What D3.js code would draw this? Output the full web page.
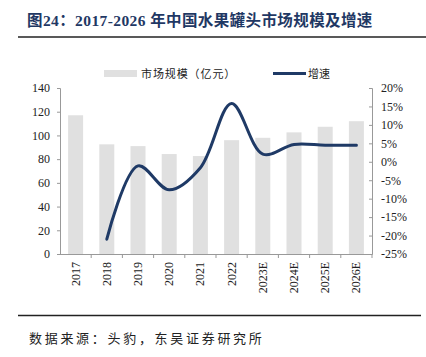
<!DOCTYPE html>
<html><head><meta charset="utf-8">
<script src="https://cdn.jsdelivr.net/npm/d3@7"></script>
<style>body{margin:0;background:#fff}svg{display:block}</style>
</head><body>
<script>
const categories = ["2017","2018","2019","2020","2021","2022","2023E","2024E","2025E","2026E"];
const marketSize = [117, 92.5, 91, 84.3, 82.6, 96, 98, 102.6, 107.3, 112];
const growth = [null, -21, -1.1, -7.6, -1.6, 15.8, 2.1, 4.7, 4.5, 4.5];
const leftTicks = [0,20,40,60,80,100,120,140];
const rightTicks = [20,15,10,5,0,-5,-10,-15,-20,-25];
const titleText = "图24：2017-2026 年中国水果罐头市场规模及增速";
const sourceText = "数据来源：头豹，东吴证券研究所";
const legendBar = "市场规模（亿元）";
const legendLine = "增速";

const W=426,H=357;
const svg=d3.select("body").append("svg").attr("width",W).attr("height",H);
const serif="'Liberation Serif','Times New Roman',serif";
const cjk="'Noto Sans CJK SC',sans-serif";
const navy="#1f3a66";

// title
svg.append("text").attr("x",27).attr("y",26).attr("font-size",15.5).attr("font-weight","bold")
  .attr("letter-spacing",0.4)
  .attr("fill","#1f3864").attr("font-family",serif+","+cjk).text(titleText);
svg.append("line").attr("x1",18).attr("x2",426).attr("y1",37).attr("y2",37).attr("stroke","#222").attr("stroke-width",1.5);
svg.append("line").attr("x1",18).attr("x2",421).attr("y1",315.5).attr("y2",315.5).attr("stroke","#222").attr("stroke-width",1.5);
svg.append("text").attr("x",29).attr("y",343).attr("font-size",13).attr("fill","#222")
  .attr("letter-spacing",2.7).attr("font-family",cjk).text(sourceText);

const x0=60,x1=372,yTop=88,yBot=254;
const xb=d3.scaleBand().domain(categories).range([x0,x1]);
const yL=d3.scaleLinear().domain([0,140]).range([yBot,yTop]);
const yR=d3.scaleLinear().domain([-25,20]).range([yBot,yTop]);

// bars
svg.append("g").selectAll("rect").data(categories).join("rect")
  .attr("x",d=>xb(d)+xb.bandwidth()/2-7.5).attr("width",15)
  .attr("y",(d,i)=>yL(marketSize[i])).attr("height",(d,i)=>yBot-yL(marketSize[i]))
  .attr("fill","#e0e0e0");

// left axis
const gL=svg.append("g").attr("transform",`translate(${x0},0)`)
  .call(d3.axisLeft(yL).tickValues(leftTicks).tickSize(3).tickPadding(7));
gL.select(".domain").attr("stroke","#999");
gL.selectAll(".tick line").attr("stroke","#999");
gL.selectAll("text").attr("font-family",serif).attr("font-size",12).attr("fill","#222");

// right axis
const gR=svg.append("g").attr("transform",`translate(${x1},0)`)
  .call(d3.axisRight(yR).tickValues(rightTicks).tickSize(-3).tickPadding(9).tickFormat(d=>d+"%"));
gR.select(".domain").attr("stroke","#999");
gR.selectAll(".tick line").attr("stroke","#999");
gR.selectAll("text").attr("font-family",serif).attr("font-size",12).attr("fill","#222");

// bottom axis
svg.append("line").attr("x1",x0).attr("x2",x1).attr("y1",yBot+0.5).attr("y2",yBot+0.5).attr("stroke","#999");
svg.append("g").selectAll("line").data(categories).join("line")
  .attr("x1",(d,i)=>x0+xb.step()*(i+1)).attr("x2",(d,i)=>x0+xb.step()*(i+1))
  .attr("y1",yBot).attr("y2",yBot+4).attr("stroke","#999");
svg.append("g").selectAll("text").data(categories).join("text")
  .attr("transform",d=>`translate(${xb(d)+xb.bandwidth()/2+4},262) rotate(-90)`)
  .attr("text-anchor","end").attr("font-family",serif).attr("font-size",12).attr("fill","#222").text(d=>d);

// line
const pts=categories.map((c,i)=>[xb(c)+xb.bandwidth()/2,growth[i]]).filter(p=>p[1]!==null);
svg.append("path").datum(pts)
  .attr("d",d3.line().x(p=>p[0]).y(p=>yR(p[1])).curve(d3.curveCatmullRom.alpha(0.5)))
  .attr("fill","none").attr("stroke",navy).attr("stroke-width",3).attr("stroke-linecap","round");

// legend
svg.append("rect").attr("x",104).attr("y",70).attr("width",33).attr("height",7).attr("fill","#e0e0e0");
svg.append("text").attr("x",141).attr("y",77.5).attr("font-size",11).attr("letter-spacing",0.9).attr("fill","#222").attr("font-family",cjk).text(legendBar);
svg.append("line").attr("x1",273).attr("x2",306).attr("y1",73.5).attr("y2",73.5).attr("stroke",navy).attr("stroke-width",3);
svg.append("text").attr("x",308).attr("y",77.5).attr("font-size",11).attr("fill","#222").attr("font-family",cjk).text(legendLine);
</script>
</body></html>
